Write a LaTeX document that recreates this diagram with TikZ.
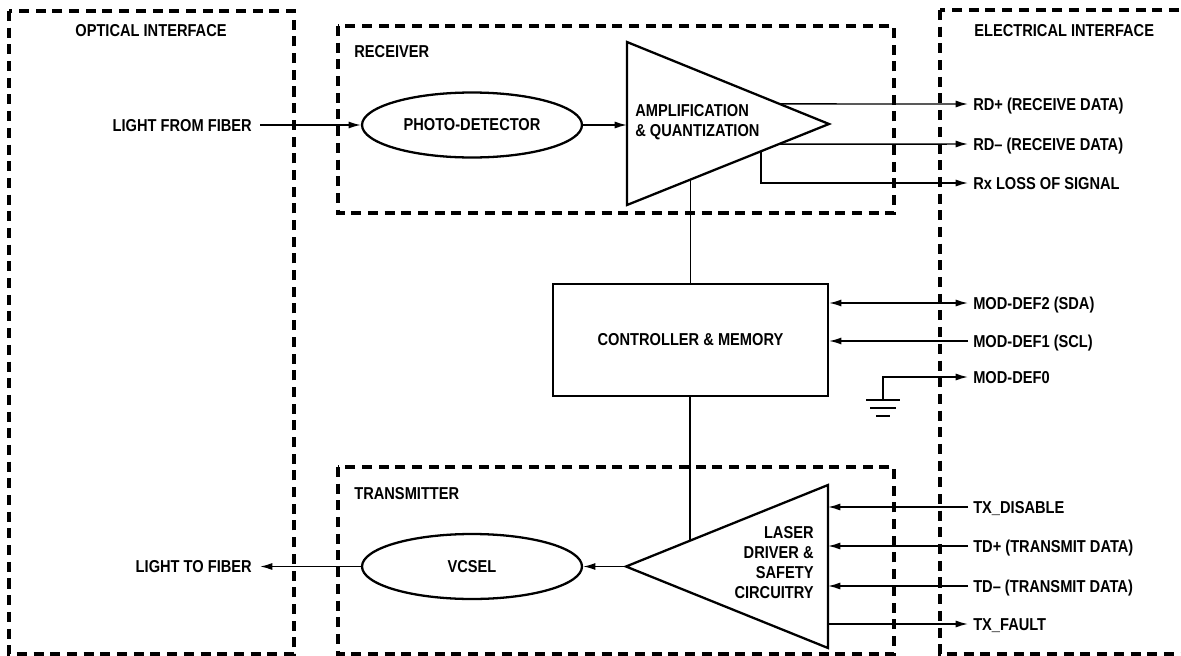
\documentclass[tikz,border=0pt]{standalone}
\usepackage{fontspec}
\setmainfont{Liberation Sans}[FakeStretch=0.85]
\usetikzlibrary{positioning,calc,arrows.meta,shapes.geometric}

\begin{document}
\begin{tikzpicture}[x=0.02cm,y=-0.02cm,
    font=\fontsize{9.8}{11.3}\selectfont\bfseries,
    >={Latex[length=7pt,width=4pt]},
    zone/.style={draw,line width=2pt,dash pattern=on 5.7pt off 3.8pt},
    blk/.style={draw,line width=1.3pt},
    lens/.style={blk,ellipse,minimum width=4.4cm,minimum height=1.3cm,inner sep=0pt},
    title/.style={anchor=west,inner sep=0pt,text height=7pt,text depth=0pt},
    sig/.style={anchor=west,inner xsep=2.8pt,inner ysep=0pt,text height=7pt,text depth=0pt},
    fib/.style={anchor=east,inner xsep=4.5pt,inner ysep=0pt,text height=7pt,text depth=0pt},
    wire/.style={line width=0.85pt}]
    \useasboundingbox (0,0) rectangle (1181,656);
    \clip (0,0) rectangle (1181,656);

    \draw[zone] (9,11) rectangle (294,654);
    \draw[zone] (338,26) rectangle (894,213);
    \draw[zone] (338,467) rectangle (894,654);
    \draw[zone] (940,10) rectangle (1200,654);
    \node[title,anchor=center] (optical) at (151,30) {OPTICAL INTERFACE};
    \node[title] (receiver) at (354,51) {RECEIVER};
    \node[title] (electrical) at (974,30) {ELECTRICAL INTERFACE};
    \node[title] (transmitter) at (354,493) {TRANSMITTER};

    \node[fib] (lfrom) at (260,125) {LIGHT FROM FIBER};
    \node[lens] (pd) at (472,125) {PHOTO-DETECTOR};
    \coordinate (amp-tl) at (627,42);
    \coordinate (amp-bl) at (627,205);
    \coordinate (amp-tip) at (829,124);
    \draw[blk] (amp-tl) -- (amp-tip) -- (amp-bl) -- cycle;
    \node[anchor=west,align=left,inner sep=0pt] (amp) at (635,122.5) {AMPLIFICATION\\\& QUANTIZATION};
    \draw[wire,->] (lfrom) -- (pd);
    \draw[wire,->] (pd) -- (pd -| amp-tl);

    \coordinate (rdp-out) at ($(amp-tl)!0.756!(amp-tip)$);
    \coordinate (rdm-out) at ($(amp-bl)!0.753!(amp-tip)$);
    \coordinate (los-out) at ($(amp-bl)!0.663!(amp-tip)$);
    \coordinate (bus-rx) at ($(amp-bl)!0.314!(amp-tip)$);
    \node[sig] (rdp) at (968,104) {RD+ (RECEIVE DATA)};
    \node[sig] (rdm) at (968,144) {RD-- (RECEIVE DATA)};
    \node[sig] (los) at (968,183) {Rx LOSS OF SIGNAL};
    \draw[wire,->] (rdp-out) -- (rdp.west);
    \draw[wire,->] (rdm-out) -- (rdm.west);
    \draw[wire,->] (los-out) |- (los.west);

    \node[blk,minimum width=5.5cm,minimum height=2.24cm] (ctrl) at (690.5,340) {CONTROLLER \& MEMORY};
    \draw[wire] (bus-rx) -- (bus-rx |- ctrl.north);
    \node[sig] (md2) at (968,303) {MOD-DEF2 (SDA)};
    \node[sig] (md1) at (968,341) {MOD-DEF1 (SCL)};
    \node[sig] (md0) at (968,377) {MOD-DEF0};
    \draw[wire,<->] (md2.west -| ctrl.east) -- (md2.west);
    \draw[wire,->] (md1.west) -- (md1.west -| ctrl.east);
    \coordinate (gnd) at (883,400);
    \draw[wire,->] (gnd) |- (md0.west);
    \draw[line width=1.2pt] ($(gnd)+(-17,0)$) -- ++(34,0)
        ($(gnd)+(-13,8)$) -- ++(26,0)
        ($(gnd)+(-7,16)$) -- ++(14,0);

    \coordinate (drv-tr) at (828,485);
    \coordinate (drv-br) at (828,648);
    \coordinate (drv-tip) at (626,566.5);
    \draw[blk] (drv-tr) -- (drv-tip) -- (drv-br) -- cycle;
    \node[anchor=east,align=right,inner sep=0pt] (drv) at (814,562.5) {LASER\\DRIVER \&\\SAFETY\\CIRCUITRY};
    \coordinate (bus-tx) at ($(drv-tip)!0.317!(drv-tr)$);
    \draw[wire] (ctrl.south -| bus-tx) -- (bus-tx);
    \node[lens] (vcsel) at (472,566.5) {VCSEL};
    \node[fib] (lto) at (260,566.5) {LIGHT TO FIBER};
    \draw[wire,->] (drv-tip) -- (vcsel);
    \draw[wire,->] (vcsel) -- (lto);

    \node[sig] (txd) at (968,507) {TX\_DISABLE};
    \node[sig] (tdp) at (968,546) {TD+ (TRANSMIT DATA)};
    \node[sig] (tdm) at (968,586) {TD-- (TRANSMIT DATA)};
    \node[sig] (txf) at (968,624) {TX\_FAULT};
    \foreach \s in {txd,tdp,tdm}
        \draw[wire,->] (\s.west) -- (\s.west -| drv-tr);
    \draw[wire,->] (txf.west -| drv-tr) -- (txf.west);
\end{tikzpicture}
\end{document}
